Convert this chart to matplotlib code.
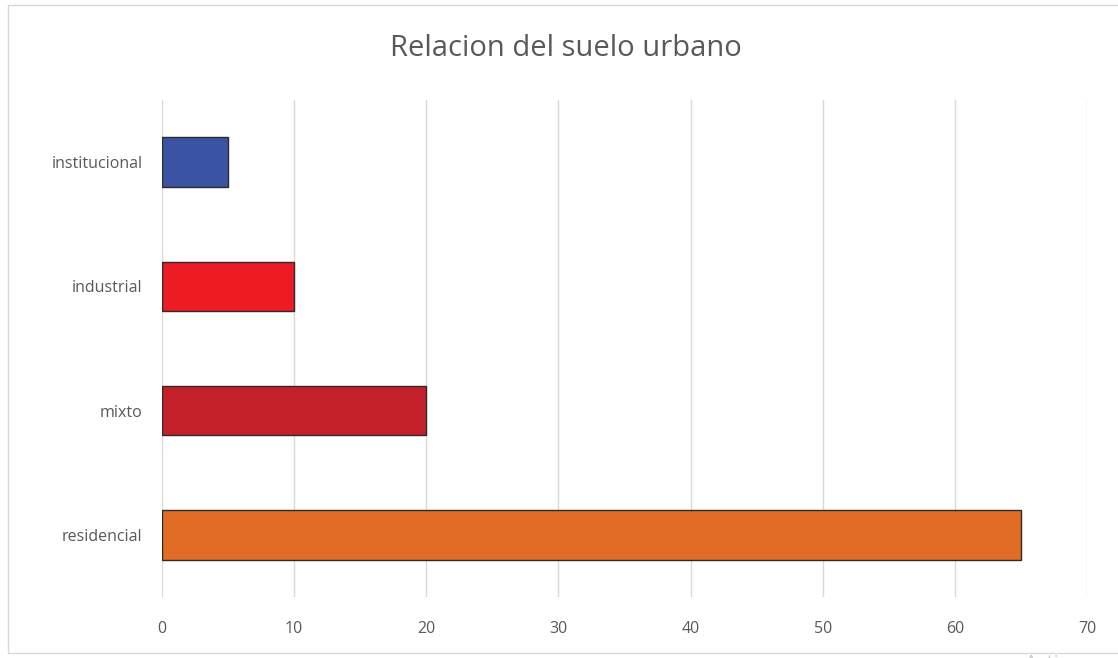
import matplotlib
matplotlib.use("Agg")
import matplotlib.pyplot as plt
from matplotlib.patches import Rectangle

categories = ["residencial", "mixto", "industrial", "institucional"]
values = [65, 20, 10, 5]
colors = ["#E06C26", "#C3202A", "#ED1C24", "#3A53A4"]
xticks = [0, 10, 20, 30, 40, 50, 60, 70]

plt.rcParams['font.family'] = ['Open Sans', 'DejaVu Sans']

W, H = 1118, 658
fig = plt.figure(figsize=(W/100, H/100), dpi=100)
ax = fig.add_axes([162/W, 1-597/H, (1087-162)/W, (597-100)/H])

ypos = list(range(len(categories)))
ax.barh(ypos, values, height=0.4, color=colors, edgecolor="#2b2b2b", linewidth=1.0, zorder=3)
ax.set_xlim(0, 70)
ax.set_ylim(-0.5, 3.5)
ax.set_xticks(xticks)
ax.set_yticks(ypos)
ax.set_yticklabels(categories)
ax.grid(axis="x", color="#d9d9d9", linewidth=1.0, zorder=0)
for s in ax.spines.values():
    s.set_visible(False)
ax.tick_params(axis="both", length=0, labelsize=11.5, colors="#595959")
ax.tick_params(axis="x", pad=17)
ax.tick_params(axis="y", pad=14)

fig.text(566/W, 1-49/H, "Relacion del suelo urbano", ha="center", va="center",
         fontsize=21, color="#595959", family=['Open Sans', 'DejaVu Sans'])

fig.patches.append(Rectangle((8/W, 1-653/H), (W+5-8)/W, (653-5)/H,
                             transform=fig.transFigure, fill=False,
                             edgecolor="#d9d9d9", linewidth=1.0))
fig.text(1025/W, -14/H, "Activar", ha="left", va="bottom", fontsize=14,
         color="#c8c8c8")

fig.savefig("out.png", dpi=100)
